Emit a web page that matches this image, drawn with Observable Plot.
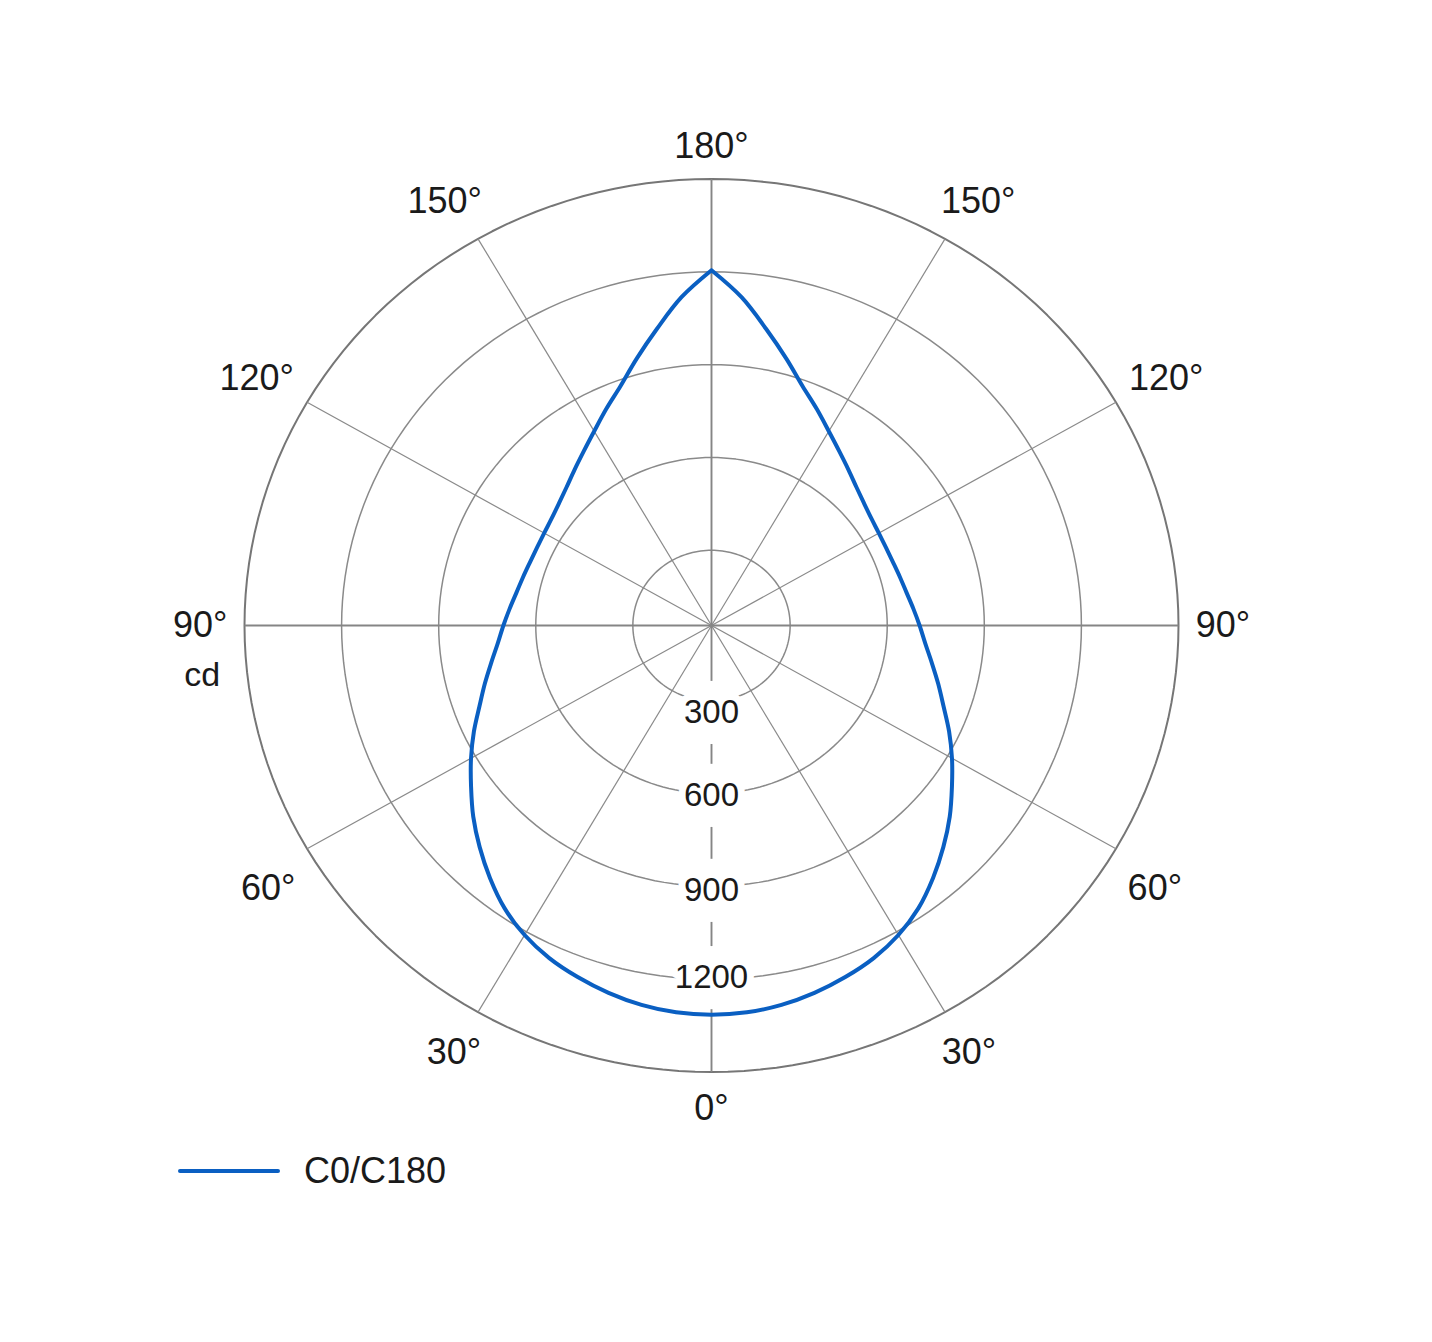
<!DOCTYPE html>
<html>
<head>
<meta charset="utf-8">
<script src="https://cdn.jsdelivr.net/npm/d3@7"></script>
<script src="https://cdn.jsdelivr.net/npm/@observablehq/plot@0.6"></script>
<style>
  body { margin: 0; background: #ffffff; font-family: "Liberation Sans", Arial, sans-serif; }
  #legend { display: flex; align-items: center; height: 62px; padding-left: 178px; }
  #legend .sw { width: 102px; height: 4px; background: #0a5fc2; border-radius: 2px; margin-right: 24px; }
  #legend .lb { font-size: 36px; color: #1a1a1a; }
</style>
</head>
<body>
<div id="chart"></div>
<div id="legend"><span class="sw"></span><span class="lb">C0/C180</span></div>
<script>
// ---- data ----
const gammaAngles = [0,5,10,15,20,25,30,35,40,45,50,55,60,65,70,75,80,85,90,95,100,105,110,115,120,125,130,135,140,145,150,155,160,165,170,175,180];
const intensityC0C180 = [1315,1312,1302,1286,1266,1243,1212,1172,1122,1070,1018,964,915,867,820,782,748,720,700,683,669,660,654,652,654,660,672,690,715,745,782,828,880,950,1030,1122,1205];
const ringValues = [300, 600, 900, 1200];
const outerValue = 1500;
const radialOrigin = 57;
const spokeAngles = [0,30,60,90,120,150,180,210,240,270,300,330];
const tickAngles = [0,30,60,90,120,150,180];
const unitLabel = "cd";

// ---- layout constants (label placement: [angle, radius in outer-ring units]) ----
const labelLayout = {0: [0, 1.082], 30: [30, 1.103], 60: [58.2, 1.117], 90: [90, 1.095], 120: [119.6, 1.12], 150: [149, 1.109], 180: [180, 1.072]};
const ringLabelShift = {300: 38, 600: 6, 900: 13, 1200: -5};
const gapHalf = 102;

// ---- helpers ----
const rScale = d3.scaleLinear().domain([radialOrigin, outerValue]).range([0, 1]);
const rad = d => d * Math.PI / 180;
const pt = (phi, r) => ({x: r * Math.sin(rad(phi)), y: -r * Math.cos(rad(phi))});

// curve: left half (phi = -gamma) then right half (phi = +gamma)
const curve = [];
for (let i = gammaAngles.length - 1; i >= 0; i--) curve.push(pt(-gammaAngles[i], rScale(intensityC0C180[i])));
for (let i = 1; i < gammaAngles.length; i++) curve.push(pt(gammaAngles[i], rScale(intensityC0C180[i])));

// rings
const rings = [];
for (const v of [...ringValues, outerValue]) {
  for (let a = 0; a <= 360; a += 2) rings.push({...pt(a, rScale(v)), ring: v, outer: v === outerValue});
}

// spokes (the downward one is broken around the ring labels)
const spokes = [];
for (const a of spokeAngles) {
  if (a === 0) {
    const stops = [radialOrigin];
    for (const v of ringValues) {
      const c = v + ringLabelShift[v];
      stops.push(c - gapHalf, c + gapHalf);
    }
    stops.push(outerValue);
    for (let k = 0; k < stops.length; k += 2) {
      const p1 = pt(0, rScale(stops[k])), p2 = pt(0, rScale(stops[k + 1]));
      spokes.push({x1: p1.x, y1: p1.y, x2: p2.x, y2: p2.y, major: true});
    }
  } else {
    const p2 = pt(a, 1);
    spokes.push({x1: 0, y1: 0, x2: p2.x, y2: p2.y, major: a % 90 === 0});
  }
}

// angle labels on both sides
const angleLabels = [];
for (const a of tickAngles) {
  const sides = (a === 0 || a === 180) ? [1] : [-1, 1];
  const [la, lr] = labelLayout[a];
  for (const s of sides) {
    angleLabels.push({...pt(s * la, lr), text: `${a}°`, phi: s * a});
  }
}
const unitLabelRow = angleLabels.filter(d => d.phi === -90).map(d => ({...d, text: unitLabel}));

const ringLabels = ringValues.map(v => ({...pt(0, rScale(v + ringLabelShift[v])), text: String(v)}));

const grid = "#8a8a8a";
const chart = Plot.plot({
  width: 1432,
  height: 1140,
  marginLeft: 244,
  marginRight: 254,
  marginTop: 178.5,
  marginBottom: 68.5,
  style: {background: "#ffffff", fontFamily: "'Liberation Sans', Arial, sans-serif"},
  x: {domain: [-1, 1], axis: null},
  y: {domain: [-1, 1], axis: null},
  marks: [
    Plot.line(rings.filter(d => !d.outer), {x: "x", y: "y", z: "ring", stroke: grid, strokeWidth: 1.5}),
    Plot.line(rings.filter(d => d.outer), {x: "x", y: "y", z: "ring", stroke: "#767676", strokeWidth: 2}),
    Plot.link(spokes.filter(d => !d.major), {x1: "x1", y1: "y1", x2: "x2", y2: "y2", stroke: grid, strokeWidth: 1.2}),
    Plot.link(spokes.filter(d => d.major), {x1: "x1", y1: "y1", x2: "x2", y2: "y2", stroke: "#858585", strokeWidth: 1.9}),
    Plot.text(ringLabels, {x: "x", y: "y", text: "text", fontSize: 33, fill: "#1a1a1a", stroke: "white", strokeWidth: 14}),
    Plot.line(curve, {x: "x", y: "y", stroke: "#0a5fc2", strokeWidth: 4, curve: "catmull-rom", strokeLinejoin: "round"}),
    Plot.text(angleLabels, {x: "x", y: "y", text: "text", fontSize: 36, fill: "#1a1a1a"}),
    Plot.text(unitLabelRow, {x: "x", y: "y", text: "text", fontSize: 34, fill: "#1a1a1a", dy: 50, dx: 2})
  ]
});
document.getElementById("chart").appendChild(chart);
</script>
</body>
</html>
